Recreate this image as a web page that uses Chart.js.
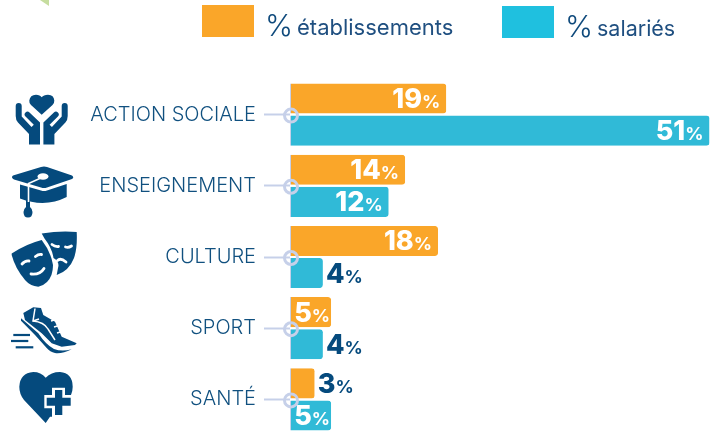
<!DOCTYPE html>
<html lang="fr"><head><meta charset="utf-8">
<script src="https://cdn.jsdelivr.net/npm/chart.js@4/dist/chart.umd.min.js"></script>
<style>
html,body{margin:0;padding:0;background:#fff;overflow:hidden;width:721px;height:431px}
#wrap{position:relative;width:721px;height:431px;overflow:hidden}
canvas{position:absolute;left:0;top:0}
svg{position:absolute;left:0;top:0}
.sw{position:absolute;width:52px;height:32px}
.lg{position:absolute;color:#1f4f80;font-family:Inter,sans-serif;font-weight:400;white-space:nowrap;font-size:21.5px;line-height:32px}
.lg b{display:inline-block;width:32px;font-weight:300;font-size:30px;color:#0f4a7c;vertical-align:-1px;letter-spacing:-1px}
</style></head><body>
<div id="wrap">
<canvas id="c" width="721" height="455" style="width:721px;height:455px"></canvas>
<svg width="721" height="431" viewBox="0 0 721 431" fill="#054a7d">
<path d="M40 0 L49 6 L49 0Z" fill="#c6dd9f"/>
<!-- mains / coeur -->
<path d="M41.700 114.700 L31 105 Q29 103 29.300 100.500 Q30 95 36 94.700 Q40 94.700 41.700 97.300 Q43.500 94.700 48 94.700 Q54 95 54.300 100.500 Q54.500 103 52.500 105Z"/>
<path d="M15.700 106 a3 3 0 0 1 6 0 V116.500 L31.500 127 L33.800 124.700 L25.500 116.500 a2.800 2.800 0 0 1 4-4 L40 122.500 V144.500 H29 V134 L18 122.500 Q15.700 120 15.700 116Z"/>
<g transform="translate(83.400,0) scale(-1,1)"><path d="M15.700 106 a3 3 0 0 1 6 0 V116.500 L31.500 127 L33.800 124.700 L25.500 116.500 a2.800 2.800 0 0 1 4-4 L40 122.500 V144.500 H29 V134 L18 122.500 Q15.700 120 15.700 116Z"/></g>
<!-- toque -->
<path d="M13 175.500 L41 167 Q44 166 47 167 L72 175.500 Q74.500 177.300 72 179 L47 187.500 Q44 188.500 41 187.500 L14 179.500 Q10.500 177.300 13 175.500Z"/>
<path d="M20 184.500 L41 190.500 Q44 191.500 47 190.500 L66.700 184 V197 Q45 208 20 198.500Z"/>
<path d="M26 200 H30 V207 Q32.500 209 32.500 212 Q32.500 217.500 28 217.500 Q23.500 217.500 23.500 212 Q23.500 209 26 207Z"/>
<g fill="none" stroke="#fff" stroke-width="1.600"><path d="M42 177.500 L28.500 183.500 V202"/></g>
<ellipse cx="43" cy="176.500" rx="5.500" ry="3.300" fill="#fff"/>
<!-- masques -->
<path d="M41.700 233.500 Q60 230.500 76.700 232 Q77.500 248 74 258 Q69 271 56.700 275 L58 268 Q60 262 53.500 258 Q52 248 44.500 238.500Z"/>
<path d="M11.700 253.500 Q26 244 41.700 240 Q51 252 53 265 Q53 276 47 282 Q43 286 38.300 286.700 Q30 286 25 280 Q15 268 11.700 255Z"/>
<g fill="none" stroke="#fff" stroke-width="2.800" stroke-linecap="round">
<path d="M22 264 q3-3.500 7-3"/><path d="M35.500 256.500 q3-2.500 6-2"/><path d="M31 274 q9 1 13-5.500"/>
<path d="M52 244.500 q3 2.500 6.500 2"/><path d="M65.500 247 q3 1 6-1"/><path d="M57.500 260.500 q3-3 8.500 1.500"/></g>
<!-- chaussure -->
<path d="M23.300 313 L33.300 307.300 L41 308 L43.300 315 L55 321.700 L61.700 336.700 L76.700 343.300 L75 345 L61.700 346.700 L51.700 343.300 L41.700 333.300 L25 320Z"/>
<path d="M21 318.300 L38.300 333.300 Q46 345 54 349 Q62 352 71.700 349.300 Q62 354 55 353 Q50 352 46.700 348 L35 335 L21 320.700Z"/>
<g fill="none" stroke="#fff" stroke-width="1.500"><path d="M35 308.500 L33 321 Q44 322 48 329 L55 340"/><path d="M39 319 L33 321"/><path d="M51 321 l5 -1.500 M54 327 l5 -1.500 M57 333 l5 -1.500"/></g>
<g stroke="#054a7d" stroke-width="2.200"><path d="M13.300 335 H30"/><path d="M11 341 H28.300"/><path d="M15.700 347.300 H33.300"/></g>
<!-- coeur + -->
<path d="M45.700 423 L24 400 Q19.300 394 19.300 386.700 Q20 373 33.300 372 Q41 372 45.700 377.700 Q51 372 60 372 Q72.500 373 72.700 386.700 Q72.700 391 71 395 H65 V387.700 H52 V395 H44.300 V408.300 H52 V416.700 H50Z"/>
<path d="M55 390 H62.300 V397.700 H70.700 V405.700 H62.300 V415 H55 V405.700 H46.700 V397.700 H55Z"/>
</svg>
<div class="sw" style="left:202px;top:5px;background:#faa629"></div>
<div class="lg" style="left:265px;top:9px;font-size:22px"><b>%</b>établissements</div>
<div class="sw" style="left:502px;top:6px;background:#1fc0df"></div>
<div class="lg" style="left:565px;top:10px"><b>%</b>salariés</div>
</div>
<script>
const categories = ['ACTION SOCIALE','ENSEIGNEMENT','CULTURE','SPORT','SANTÉ'];
const etablissements = [19,14,18,5,3];
const salaries = [51,12,4,4,5];
const seriesNames = ['% établissements','% salariés'];
const INK='#054a7d', LAV='#c6d0e9';

const valueLabels = {id:'valueLabels',afterDatasetsDraw(ch){
  const c=ch.ctx;
  ch.data.datasets.forEach((ds,i)=>{
    ch.getDatasetMeta(i).data.forEach((bar,j)=>{
      const v=ds.data[j], inside=v>=5, num=String(v);
      c.save();c.textBaseline='alphabetic';c.textAlign='left';
      c.font='800 27px Inter, sans-serif';const wn=c.measureText(num).width;
      c.font='700 18px Inter, sans-serif';const wp=c.measureText('%').width;
      const x=inside? bar.x-(v===5?1:6)-wn-wp : bar.x+3;
      const y=bar.y+9.500;
      c.fillStyle=inside?'#fff':INK;
      c.font='800 27px Inter, sans-serif';c.fillText(num,x,y);
      c.font='700 18px Inter, sans-serif';c.fillText('%',x+wn,y);
      c.restore();
    });
  });
}};
const axisRings = {id:'axisRings',afterDatasetsDraw(ch){
  const c=ch.ctx,s=ch.scales.y,x=ch.scales.x.getPixelForValue(0);
  categories.forEach((_,i)=>{
    c.save();c.beginPath();c.arc(x+1,s.getPixelForTick(i)+1,6.500,0,Math.PI*2);
    c.strokeStyle=LAV;c.lineWidth=3;c.stroke();c.restore();
  });
}};
new Chart(document.getElementById('c'),{
  type:'bar',
  data:{labels:categories,datasets:[
    {label:seriesNames[0],data:etablissements,backgroundColor:'#faa629'},
    {label:seriesNames[1],data:salaries,backgroundColor:'#30bad7'}
  ]},
  options:{
    indexAxis:'y',responsive:false,animation:false,
    layout:{padding:{top:79,bottom:1,left:0,right:0}},
    datasets:{bar:{categoryPercentage:64/71,barPercentage:30/32,borderRadius:{topRight:3,bottomRight:3,topLeft:0,bottomLeft:0},
      borderWidth:{left:1,top:0,right:0,bottom:0},borderColor:LAV,borderSkipped:false}},
    plugins:{legend:{display:false},tooltip:{enabled:false}},
    scales:{
      x:{display:false,min:0,max:52.400},
      y:{
        afterFit(s){s.width=290;},
        border:{display:false},
        grid:{offset:false,drawOnChartArea:false,drawTicks:true,tickLength:26,tickColor:LAV,tickWidth:2},
        ticks:{color:'#10507f',padding:8,font:{family:'Inter, sans-serif',size:20,weight:'300'}}
      }
    }
  },
  plugins:[valueLabels,axisRings]
});
</script>
</body></html>
